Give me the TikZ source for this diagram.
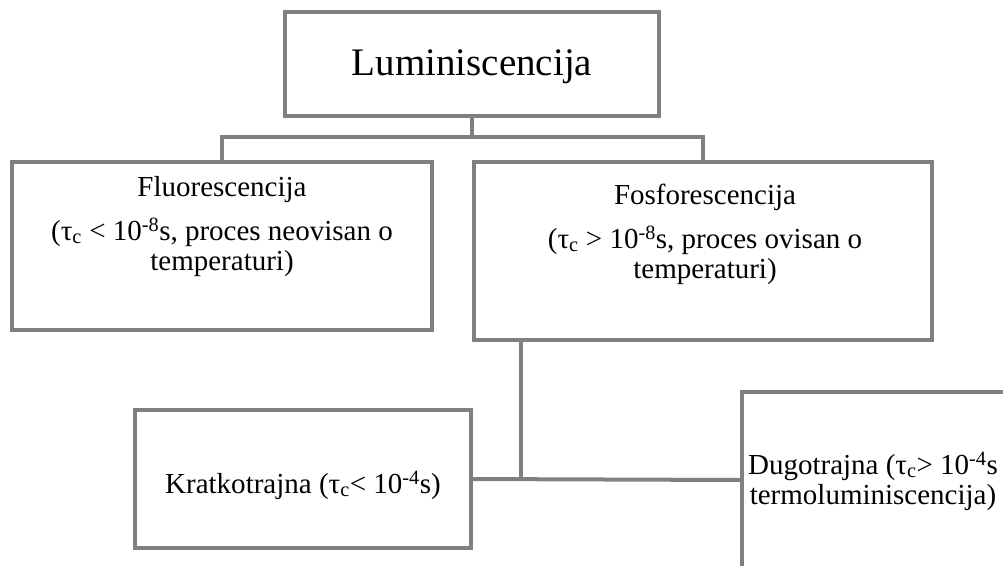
\documentclass[tikz,border=0pt]{standalone}
\usepackage{fontspec}
\setmainfont{Liberation Serif}
\definecolor{lg}{HTML}{808080}
\begin{document}
\begin{tikzpicture}[x=1pt,y=-1pt,
  box/.style={draw=lg, line width=4pt, fill=white, inner sep=0pt},
  conn/.style={draw=lg, line width=4pt},
  txt/.style={font=\fontsize{29}{30}\selectfont, align=center, inner sep=0pt},
  bigtxt/.style={font=\fontsize{39}{44}\selectfont, inner sep=0pt}]
\useasboundingbox (0,0) rectangle (1003,565);
\clip (0,0) rectangle (1003,565);
% boxes
\node[box, minimum width=374pt, minimum height=104pt] (lum) at (472,64) {};
\node[box, minimum width=420pt, minimum height=168pt] (flu) at (222,246) {};
\node[box, minimum width=458pt, minimum height=178pt] (fos) at (703,251) {};
\node[box, minimum width=336pt, minimum height=138pt] (kra) at (303,479) {};
\node[box, minimum width=266pt, minimum height=176pt] (dug) at (875,480) {};
% junctions
\coordinate (j1) at (472,137);
\coordinate (j2) at (521,480);
% connectors
\draw[conn] (lum.south) -- (j1);
\draw[conn, line join=miter] (flu.north) |- (j1) -| (fos.north);
\draw[conn] (j2 |- fos.south) -- (j2);
\draw[conn] (kra.east) -- (dug.west);
% texts
\node[bigtxt] (lumt) at (472,67) {Luminiscencija};
\node[txt] (flut) at (222,190) {Fluorescencija};
\node[txt] (flup) at (222,247) {(τ\textsubscript{c} < 10\textsuperscript{-8}s, proces neovisan o\\temperaturi)};
\node[txt] (fost) at (705,197) {Fosforescencija};
\node[txt] (fosp) at (705,255) {(τ\textsubscript{c} > 10\textsuperscript{-8}s, proces ovisan o\\temperaturi)};
\node[txt] (krat) at (303,485) {Kratkotrajna (τ\textsubscript{c}< 10\textsuperscript{-4}s)};
\node[txt] (dugt) at (873,481) {Dugotrajna (τ\textsubscript{c}> 10\textsuperscript{-4}s\\termoluminiscencija)};
\end{tikzpicture}
\end{document}
